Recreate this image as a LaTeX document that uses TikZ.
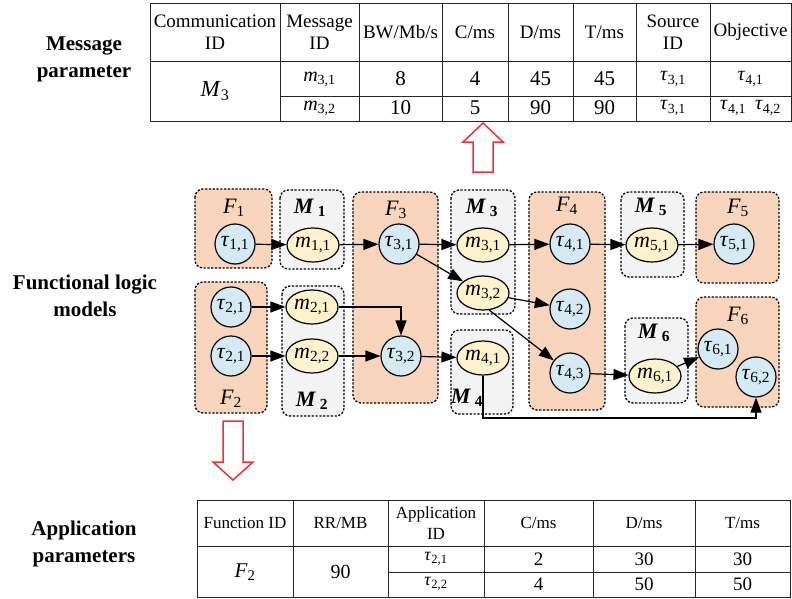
\documentclass[tikz,border=0pt]{standalone}
\usepackage{fontspec}
\setmainfont{Liberation Serif}
\usetikzlibrary{arrows.meta,positioning,shapes.geometric}

\definecolor{fnfill}{RGB}{248,213,188}
\definecolor{msgfill}{RGB}{243,243,243}
\definecolor{taufill}{RGB}{214,234,246}
\definecolor{mfill}{RGB}{255,242,204}
\definecolor{arrred}{RGB}{235,50,58}

\newcommand{\tsk}[1]{\textit{τ}\textsubscript{#1}}
\newcommand{\msgid}[1]{\textit{m}\textsubscript{#1}}
\newcommand{\fnid}[1]{\textit{F}\textsubscript{#1}}
\newcommand{\mgrp}[1]{\textbf{\textit{M}\,\textsubscript{#1}}}

\tikzset{
  link/.style={line width=1.2pt, arrows={-Triangle[length=15pt,width=11pt]}}
}

\begin{document}
\begin{tikzpicture}[x=1pt,y=-1pt,
    task/.style={circle, draw, line width=1.2pt, fill=taufill, minimum size=40pt, inner sep=0pt, font=\fontsize{22}{24}\selectfont},
    msg/.style={ellipse, draw, line width=1.2pt, fill=mfill, minimum width=52pt, minimum height=34pt, inner sep=0pt, font=\fontsize{22}{24}\selectfont},
    fnbox/.style={draw, dash pattern=on 2.2pt off 1.6pt, line width=1.3pt, rounded corners=8pt, fill=fnfill},
    msgbox/.style={fnbox, fill=msgfill},
    grp/.style={font=\fontsize{22}{24}\selectfont, inner sep=0pt},
    hollow/.style={draw=arrred, line width=1.5pt, fill=white},
    grid/.style={line width=0.9pt, draw=black!85},
    toptxt/.style={font=\fontsize{19}{22}\selectfont, align=center, inner sep=0pt},
    bottxt/.style={font=\fontsize{17}{21}\selectfont, align=center, inner sep=0pt},
    side/.style={font=\bfseries\fontsize{21}{27}\selectfont, align=center}
  ]
  \useasboundingbox (0,0) rectangle (792,599);

  % Side titles
  \node[side] (title-msg) at (84,59) {Message\\parameter};
  \node[side] (title-fun) at (85,296) {Functional logic\\models};
  \node[side] (title-app) at (84,544) {Application\\parameters};

  % Message parameter table
  \draw[grid] (150,3) rectangle (791,121);
  \draw[grid] (150,61) -- (791,61);
  \draw[grid] (280,96) -- (791,96);
  \foreach \x in {280,359,442,508,573,636,710} {
    \draw[grid] (\x,3) -- (\x,121);
  }
  \foreach \txt/\x [count=\i] in {Communication\\ID/215, Message\\ID/319.5, {BW/Mb/s}/400.5, {C/ms}/475, {D/ms}/540.5, {T/ms}/604.5, Source\\ID/673, Objective/750.5} {
    \node[toptxt] (mhead-\i) at (\x,32) {\txt};
  }
  \node[toptxt, font=\fontsize{23}{24}\selectfont] (mrow-id) at (215,91) {\textit{M}\textsubscript{3}};
  \foreach \a/\b/\c/\d/\e/\f/\g/\y/\r in {\msgid{3,1}/8/4/45/45/\tsk{3,1}/\tsk{4,1}/79/1, \msgid{3,2}/10/5/90/90/\tsk{3,1}/\tsk{4,1}\hspace{9pt}\tsk{4,2}/108/2} {
    \node[toptxt, font=\fontsize{20}{22}\selectfont] (mrow\r-1) at (319.5,\y) {\a};
    \node[toptxt, font=\fontsize{21}{22}\selectfont] (mrow\r-2) at (400.5,\y) {\b};
    \node[toptxt, font=\fontsize{21}{22}\selectfont] (mrow\r-3) at (475,\y) {\c};
    \node[toptxt, font=\fontsize{21}{22}\selectfont] (mrow\r-4) at (540.5,\y) {\d};
    \node[toptxt, font=\fontsize{21}{22}\selectfont] (mrow\r-5) at (604.5,\y) {\e};
    \node[toptxt, font=\fontsize{20}{22}\selectfont] (mrow\r-6) at (673,\y) {\f};
    \node[toptxt, font=\fontsize{20}{22}\selectfont] (mrow\r-7) at (750.5,\y) {\g};
  }

  % Hollow arrows
  \draw[hollow] (473,172) -- (473,142) -- (463,142) -- (483,123) -- (503,142) -- (493,142) -- (493,172) -- cycle;
  \draw[hollow] (223,421) -- (243,421) -- (243,462) -- (253,462) -- (233,480) -- (213,462) -- (223,462) -- cycle;

  % Groups
  \draw[fnbox]  (195,189) rectangle (272,268);
  \draw[msgbox] (280,190) rectangle (344,269);
  \draw[fnbox]  (353,192) rectangle (438,403);
  \draw[msgbox] (451,190) rectangle (515,314);
  \draw[fnbox]  (529,192) rectangle (605,410);
  \draw[msgbox] (621,192) rectangle (684,277);
  \draw[fnbox]  (696,192) rectangle (779,283);
  \draw[fnbox]  (195,282) rectangle (267,413);
  \draw[msgbox] (282,286) rectangle (344,416);
  \draw[msgbox] (451,330) rectangle (513,414);
  \draw[msgbox] (625,318) rectangle (688,403);
  \draw[fnbox]  (696,297) rectangle (779,407);

  \node[grp] (lab-F1) at (234,208) {\fnid{1}};
  \node[grp] (lab-M1) at (310,208) {\mgrp{1}};
  \node[grp] (lab-F3) at (396,210) {\fnid{3}};
  \node[grp] (lab-M3) at (482,208) {\mgrp{3}};
  \node[grp] (lab-F4) at (567,206) {\fnid{4}};
  \node[grp] (lab-M5) at (651,207) {\mgrp{5}};
  \node[grp] (lab-F5) at (738,208) {\fnid{5}};
  \node[grp] (lab-F2) at (231,399) {\fnid{2}};
  \node[grp] (lab-M2) at (312,401) {\mgrp{2}};
  \node[grp] (lab-M4) at (467,398) {\mgrp{4}};
  \node[grp] (lab-M6) at (654,333) {\mgrp{6}};
  \node[grp] (lab-F6) at (738,316) {\fnid{6}};

  % Tasks and messages
  \node[task] (t11) at (235,244) {\tsk{1,1}};
  \node[msg]  (m11) at (313,245) {\msgid{1,1}};
  \node[task] (t31) at (399,244) {\tsk{3,1}};
  \node[msg]  (m31) at (483,245) {\msgid{3,1}};
  \node[msg]  (m32) at (483,293) {\msgid{3,2}};
  \node[task] (t41) at (570,244) {\tsk{4,1}};
  \node[task] (t42) at (570,309) {\tsk{4,2}};
  \node[task] (t43) at (570,373) {\tsk{4,3}};
  \node[msg]  (m51) at (652,245) {\msgid{5,1}};
  \node[task] (t51) at (734,244) {\tsk{5,1}};
  \node[task] (t21) at (231,307) {\tsk{2,1}};
  \node[task] (t21b) at (231,356) {\tsk{2,1}};
  \node[msg]  (m21) at (312,307) {\msgid{2,1}};
  \node[msg]  (m22) at (312,356) {\msgid{2,2}};
  \node[task] (t32) at (401,356) {\tsk{3,2}};
  \node[msg]  (m41) at (483,358) {\msgid{4,1}};
  \node[msg]  (m61) at (655,376) {\msgid{6,1}};
  \node[task] (t61) at (718,349) {\tsk{6,1}};
  \node[task] (t62) at (756,377) {\tsk{6,2}};
  \coordinate (lowrun) at (620,418);

  % Links
  \draw[link] (t11) -- (m11);
  \draw[link] (m11) -- (t31);
  \draw[link] (t31) -- (m31);
  \draw[link] (t31) -- (m32);
  \draw[link] (m31) -- (t41);
  \draw[link] (m32) -- (t42);
  \draw[link] (m32.-70) -- (t43);
  \draw[link] (t41) -- (m51);
  \draw[link] (m51) -- (t51);
  \draw[link] (t21) -- (m21);
  \draw[link] (t21b) -- (m22);
  \draw[link] (m21) -| (t32);
  \draw[link] (m22) -- (t32);
  \draw[link] (t32) -- (m41);
  \draw[link] (t43) -- (m61);
  \draw[link] (m61) -- (t61);
  \draw[link] (m41) |- (lowrun) -| (t62);

  % Application parameters table
  \draw[grid] (197,500) rectangle (790,597);
  \draw[grid] (197,546) -- (790,546);
  \draw[grid] (388,572) -- (790,572);
  \foreach \x in {293,388,484,593,695} {
    \draw[grid] (\x,500) -- (\x,597);
  }
  \foreach \txt/\x [count=\i] in {Function ID/245, {RR/MB}/340.5, Application\\ID/436, {C/ms}/538.5, {D/ms}/644, {T/ms}/742.5} {
    \node[bottxt] (ahead-\i) at (\x,523) {\txt};
  }
  \node[bottxt, font=\fontsize{21}{22}\selectfont] (arow-id) at (245,572) {\fnid{2}};
  \node[bottxt, font=\fontsize{20}{22}\selectfont] (arow-rr) at (340.5,572) {90};
  \foreach \a/\b/\c/\d/\y/\r in {\tsk{2,1}/2/30/30/559/1, \tsk{2,2}/4/50/50/584/2} {
    \node[bottxt, font=\fontsize{18}{21}\selectfont] (arow\r-1) at (436,\y) {\a};
    \node[bottxt, font=\fontsize{19}{21}\selectfont] (arow\r-2) at (538.5,\y) {\b};
    \node[bottxt, font=\fontsize{19}{21}\selectfont] (arow\r-3) at (644,\y) {\c};
    \node[bottxt, font=\fontsize{19}{21}\selectfont] (arow\r-4) at (742.5,\y) {\d};
  }
\end{tikzpicture}
\end{document}
